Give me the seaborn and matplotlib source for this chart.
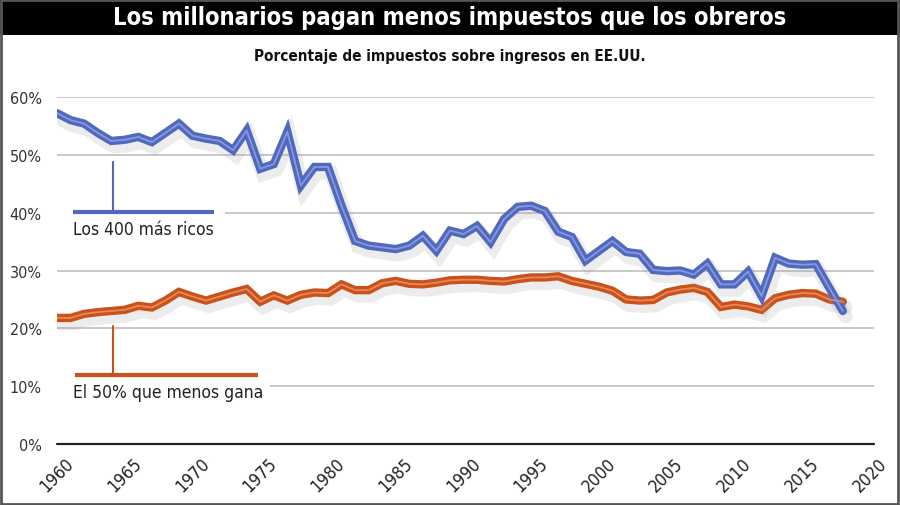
import numpy as np
import pandas as pd
import matplotlib
matplotlib.use("Agg")
import matplotlib.pyplot as plt
import matplotlib.patheffects as pe
from matplotlib.patches import Rectangle
import seaborn as sns

years = list(range(1960, 2019))
top400 = [57.2, 56.0, 55.4, 53.8, 52.4, 52.6, 53.1, 52.2, 53.8, 55.4,
          53.3, 52.8, 52.4, 50.8, 54.2, 47.6, 48.4, 54.0, 44.7, 47.9,
          47.9, 41.2, 35.1, 34.3, 34.0, 33.7, 34.3, 36.0, 33.4, 36.9,
          36.3, 37.7, 34.9, 38.9, 41.0, 41.2, 40.3, 36.7, 35.8, 31.7,
          33.4, 35.1, 33.2, 32.9, 30.1, 29.9, 30.0, 29.3, 31.2, 27.6,
          27.6, 29.8, 25.6, 32.2, 31.2, 31.0, 31.1, 27.0, 23.0]
bottom50 = [21.8, 21.8, 22.5, 22.8, 23.0, 23.2, 23.9, 23.6, 24.8, 26.3,
            25.5, 24.8, 25.5, 26.2, 26.8, 24.6, 25.7, 24.8, 25.8, 26.2,
            26.1, 27.6, 26.6, 26.6, 27.8, 28.2, 27.7, 27.6, 27.9, 28.3,
            28.4, 28.4, 28.2, 28.1, 28.5, 28.8, 28.8, 29.0, 28.2, 27.7,
            27.2, 26.5, 25.0, 24.8, 24.9, 26.2, 26.7, 27.0, 26.3, 23.7,
            24.1, 23.8, 23.2, 25.2, 25.8, 26.1, 26.0, 25.0, 24.6]
xticks = list(range(1960, 2021, 5))
yticks = [0, 10, 20, 30, 40, 50, 60]

title = "Los millonarios pagan menos impuestos que los obreros"
subtitle = "Porcentaje de impuestos sobre ingresos en EE.UU."
label_top = "Los 400 más ricos"
label_bottom = "El 50% que menos gana"

blue = "#5069bf"
blue_hi = "#8799dc"
orange = "#c9521b"
orange_hi = "#e8875a"

df = pd.DataFrame({"year": years, "top400": top400, "bottom50": bottom50})

sns.set_style("white")
plt.rcParams["font.family"] = ["DejaVu Sans"]
plt.rcParams["font.stretch"] = "condensed"

fig = plt.figure(figsize=(9, 5.06), dpi=100)
ax = fig.add_axes([57 / 900, 1 - 445 / 506, (874 - 57) / 900, (445 - 98) / 506])

# both series, thick line with a lighter stripe and a soft shadow
for col, c, hi in [("bottom50", orange, orange_hi), ("top400", blue, blue_hi)]:
    sns.lineplot(data=df, x="year", y=col, ax=ax, color=c, linewidth=6, zorder=4)
    line = ax.lines[-1]
    line.set_path_effects([pe.SimpleLineShadow(offset=(2, -4), shadow_color="#999999", alpha=0.18,
                                               linewidth=10), pe.Normal()])
    line.set_solid_joinstyle("miter")
    ax.plot(years, df[col], color=hi, linewidth=1.3, zorder=5)

ax.set_xlim(1960, 2020.3)
ax.set_ylim(0, 60)
ax.set_xticks(xticks)
ax.set_yticks(yticks)
ax.set_yticklabels([f"{v}%" for v in yticks])
ax.set_xticklabels([str(v) for v in xticks], rotation=45, ha="center", va="top")
ax.tick_params(axis="x", length=0, pad=7, labelsize=12.5, labelcolor="#222222")
ax.tick_params(axis="y", length=0, pad=11, labelsize=11.5, labelcolor="#333333")
ax.set_xlabel("")
ax.set_ylabel("")
for s in ax.spines.values():
    s.set_visible(False)
for v in yticks[1:]:
    ax.axhline(v, color="#c4c4c4", linewidth=1.3, zorder=1)
ax.axhline(0, color="#222222", linewidth=1.6, zorder=2, clip_on=False)

# annotation for the richest
ax.add_patch(Rectangle((1959.8, 35.6), 12.6, 5.3, facecolor="white", edgecolor="none", zorder=3))
ax.plot([1961.2, 1971.6], [40.1, 40.1], color=blue, linewidth=3, solid_capstyle="butt", zorder=6)
ax.plot([1964.1, 1964.1], [40.1, 48.8], color=blue, linewidth=1.5, zorder=6)
ax.text(1961.2, 38.7, label_top, fontsize=12.5, color="#222222", ha="left", va="top", zorder=6)

# annotation for the bottom half
ax.add_patch(Rectangle((1959.8, 7.8), 15.9, 4.5, facecolor="white", edgecolor="none", zorder=3))
ax.plot([1961.3, 1974.8], [11.9, 11.9], color=orange, linewidth=3, solid_capstyle="butt", zorder=6)
ax.plot([1964.1, 1964.1], [11.9, 20.4], color=orange, linewidth=1.5, zorder=6)
ax.text(1961.2, 10.5, label_bottom, fontsize=12.5, color="#222222", ha="left", va="top", zorder=6)

# header bar and frame
fig.patches.append(Rectangle((0, 1 - 36 / 506), 1, 36 / 506, transform=fig.transFigure,
                             facecolor="black", edgecolor="none", zorder=0))
fig.patches.append(Rectangle((0.001, 0.002), 0.997, 0.996, transform=fig.transFigure,
                             facecolor="none", edgecolor="#555555", linewidth=2, zorder=10))
fig.text(0.5, 1 - 18 / 506, title, color="white", fontsize=17, fontweight="bold",
         ha="center", va="center")
fig.text(0.5, 1 - 57 / 506, subtitle, color="#111111", fontsize=11, fontweight="bold",
         ha="center", va="center")

fig.savefig("out.png", dpi=100)
